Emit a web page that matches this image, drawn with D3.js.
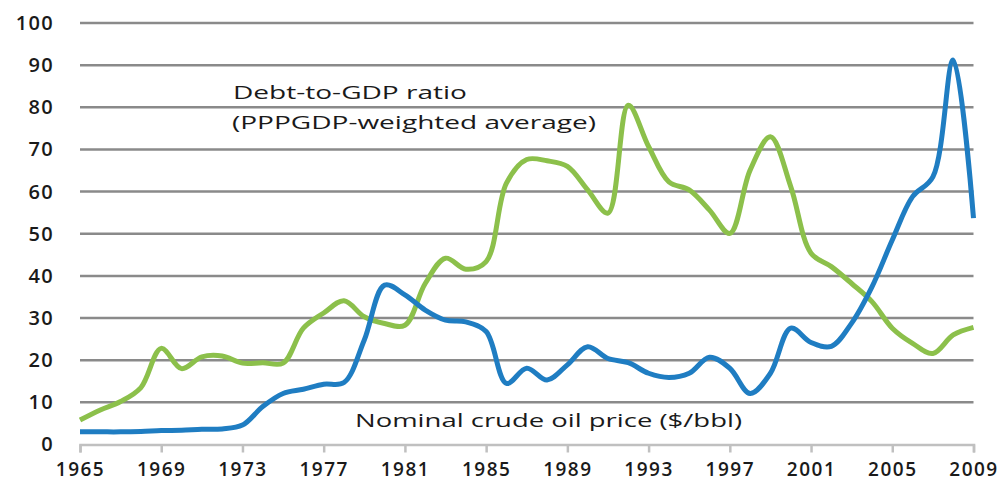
<!DOCTYPE html>
<html>
<head>
<meta charset="utf-8">
<script src="https://cdn.jsdelivr.net/npm/d3@7"></script>
<style>
  body { margin: 0; background: #fff; }
  svg { display: block; font-family: "Open Sans", sans-serif; }
</style>
</head>
<body>
<div id="chart"></div>
<script>
var years = d3.range(1965, 2010);
var debtToGdp = [5.8, 8.2, 10.2, 13.5, 22.8, 18.0, 20.8, 21.0, 19.3, 19.4, 19.3, 27.6, 31.2, 34.1, 30.3, 28.7,
                 28.3, 38.2, 44.2, 41.6, 43.4, 62.0, 67.6, 67.3, 66.0, 60.4, 54.9, 80.5, 70.7, 62.3, 60.4, 55.6,
                 50.1, 65.1, 73.0, 61.2, 45.4, 42.2, 38.2, 33.9, 27.6, 24.0, 21.6, 26.0, 27.8];
var oilPrice = [3.0, 3.0, 3.0, 3.1, 3.3, 3.4, 3.6, 3.7, 4.6, 9.0, 12.1, 13.1, 14.3, 14.7, 24.8, 37.8,
                35.5, 31.9, 29.5, 29.1, 26.8, 14.5, 18.1, 15.3, 18.9, 23.2, 20.4, 19.4, 16.9, 15.9, 16.9, 20.7,
                18.1, 12.1, 16.9, 27.6, 24.2, 23.3, 28.8, 37.4, 48.5, 58.8, 63.5, 91.2, 53.7];
var yTicks = [0, 10, 20, 30, 40, 50, 60, 70, 80, 90, 100];
var xTicks = [1965, 1969, 1973, 1977, 1981, 1985, 1989, 1993, 1997, 2001, 2005, 2009];

var width = 1005, height = 484;

var svg = d3.select("#chart")
    .append("svg")
    .attr("width", width)
    .attr("height", height);

var x = d3.scaleLinear().domain([1965, 2009]).range([80, 973.5]);
var y = d3.scaleLinear().domain([0, 100]).range([444.5, 23]);

// gridlines
svg.append("g")
    .selectAll("line")
    .data(yTicks.filter(function(d) { return d > 0; }))
    .enter().append("line")
    .attr("x1", x(1965))
    .attr("x2", x(2009))
    .attr("y1", function(d) { return y(d); })
    .attr("y2", function(d) { return y(d); })
    .attr("stroke", "#8a8a8a")
    .attr("stroke-width", 2.5);

// bottom axis
var xAxis = svg.append("g")
    .attr("transform", "translate(0," + y(0) + ")")
    .call(d3.axisBottom(x).tickValues(xTicks).tickFormat(d3.format("d")).tickSize(8).tickPadding(10));
xAxis.select(".domain").attr("stroke", "#c0c0c0").attr("stroke-width", 2.5);
xAxis.selectAll(".tick line").attr("stroke", "#c0c0c0").attr("stroke-width", 2.5);
xAxis.selectAll("text")
    .attr("font-family", "Open Sans, sans-serif")
    .attr("font-size", 19)
    .attr("font-weight", 600)
    .attr("letter-spacing", 1.5)
    .attr("fill", "#1a1a1a");

// left axis labels
var yAxis = svg.append("g")
    .attr("transform", "translate(80,0)")
    .call(d3.axisLeft(y).tickValues(yTicks).tickSize(0).tickPadding(26));
yAxis.select(".domain").remove();
yAxis.selectAll("text")
    .attr("font-family", "Open Sans, sans-serif")
    .attr("font-size", 20)
    .attr("font-weight", 600)
    .attr("letter-spacing", 1.3)
    .attr("fill", "#1a1a1a");

var line = d3.line()
    .x(function(d, i) { return x(years[i]); })
    .y(function(d) { return y(d); })
    .curve(d3.curveCatmullRom.alpha(0.5));

svg.append("path")
    .datum(debtToGdp)
    .attr("fill", "none")
    .attr("stroke", "#8cc04b")
    .attr("stroke-width", 5)
    .attr("stroke-linejoin", "round")
    .attr("d", line);

svg.append("path")
    .datum(oilPrice)
    .attr("fill", "none")
    .attr("stroke", "#1f7dc2")
    .attr("stroke-width", 5)
    .attr("stroke-linejoin", "round")
    .attr("d", line);

// annotations
function label(txt, lx, ly, len) {
    svg.append("text")
        .attr("x", lx)
        .attr("y", ly)
        .attr("font-size", 19)
        .attr("fill", "#1a1a1a")
        .attr("textLength", len)
        .attr("lengthAdjust", "spacingAndGlyphs")
        .text(txt);
}
label("Debt-to-GDP ratio", 233, 99, 234);
label("(PPPGDP-weighted average)", 232, 129, 364);
label("Nominal crude oil price ($/bbl)", 355, 427, 387);
</script>
</body>
</html>
